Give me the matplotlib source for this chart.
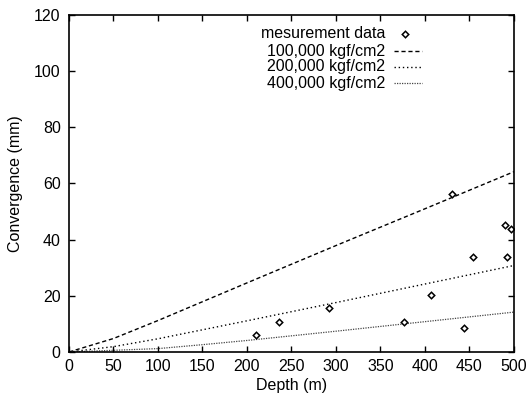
import matplotlib
matplotlib.use("Agg")
import matplotlib.pyplot as plt

plt.rcParams["font.family"] = ["Liberation Sans", "DejaVu Sans"]

# ---------------------------------------------------------
# Measured convergence vs depth
# ---------------------------------------------------------
meas_depth = [210, 236, 292, 376, 407, 430, 444, 454, 490, 497, 492]
meas_conv = [6.1, 10.7, 15.6, 10.6, 20.4, 56.1, 8.7, 34.0, 45.3, 43.7, 34.0]

# ---------------------------------------------------------
# Calculated convergence for three elastic moduli
# ---------------------------------------------------------
calc_depth = [0, 50, 100, 150, 200, 300, 400, 500]
conv_100k = [0, 4.8, 11.2, 17.9, 24.6, 37.9, 51.0, 64.2]
conv_200k = [0, 1.9, 4.7, 7.9, 11.1, 17.6, 24.2, 30.8]
conv_400k = [0, 0.6, 1.2, 2.6, 4.1, 7.4, 10.8, 14.2]

labels = ["mesurement data", "100,000 kgf/cm2", "200,000 kgf/cm2", "400,000 kgf/cm2"]

fig = plt.figure(figsize=(5.29, 4.03), dpi=100)
ax = fig.add_axes([0.1304, 0.1266, 0.8412, 0.8362])

ax.plot(calc_depth, conv_100k, color="black", lw=1.0, dashes=(3, 2))
ax.plot(calc_depth, conv_200k, color="black", lw=1.0, dashes=(1, 2))
ax.plot(calc_depth, conv_400k, color="#444444", lw=0.9, dashes=(1, 1))
ax.plot(meas_depth, meas_conv, ls="none", marker="D", ms=3.3, mfc="white",
        mec="black", mew=1.1)

ax.set_xlim(0, 500)
ax.set_ylim(0, 120)
ax.set_xticks(range(0, 501, 50))
ax.set_yticks(range(0, 121, 20))
ax.tick_params(direction="in", length=4, width=1, top=True, right=True,
               labelsize=11.5)
ax.tick_params(axis="x", pad=5)
ax.tick_params(axis="y", pad=6)
for s in ax.spines.values():
    s.set_linewidth(1.2)

ax.set_xlabel("Depth (m)", fontsize=11.5, labelpad=3)
ax.set_ylabel("Convergence (mm)", fontsize=11.5, labelpad=8)

# gnuplot-style key: right-justified text with sample to the right
key_y = [0.9436, 0.893, 0.846, 0.798]
tr = ax.transAxes
for lab, yy in zip(labels, key_y):
    ax.text(0.710, yy, lab, ha="right", va="center", fontsize=11.5, transform=tr)
ax.plot([0.755], [key_y[0]], ls="none", marker="D", ms=3.3, mfc="white",
        mec="black", mew=1.1, transform=tr)
ax.plot([0.730, 0.793], [key_y[1]] * 2, color="black", lw=1.0, dashes=(3, 2), transform=tr)
ax.plot([0.730, 0.793], [key_y[2]] * 2, color="black", lw=1.0, dashes=(1, 2), transform=tr)
ax.plot([0.730, 0.793], [key_y[3]] * 2, color="#444444", lw=0.9, dashes=(1, 1), transform=tr)

fig.savefig("out.png", dpi=100)
